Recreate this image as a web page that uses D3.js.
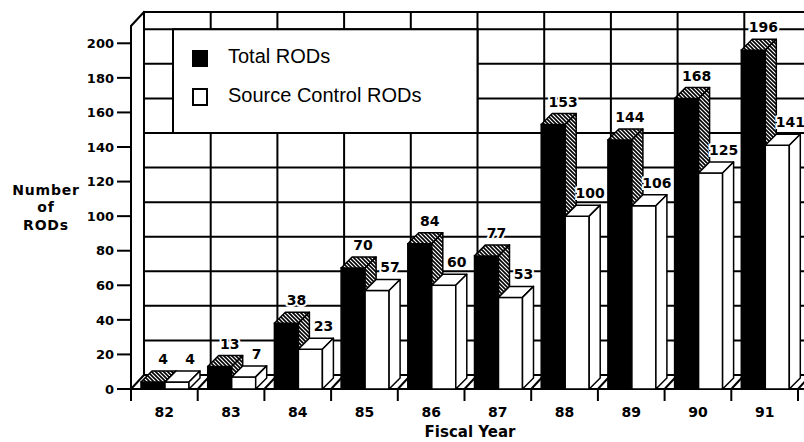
<!DOCTYPE html>
<html>
<head>
<meta charset="utf-8">
<script src="https://cdn.jsdelivr.net/npm/d3@7"></script>
<style>
  body { margin: 0; background: #fff; }
  svg { display: block; }
  .lbl { font-family: "DejaVu Sans", sans-serif; font-weight: bold; fill: #000; }
</style>
</head>
<body>
<svg width="804" height="442"></svg>
<script>
var years = ["82", "83", "84", "85", "86", "87", "88", "89", "90", "91"];
var totalRods = [4, 13, 38, 70, 84, 77, 153, 144, 168, 196];
var sourceRods = [4, 7, 23, 57, 60, 53, 100, 106, 125, 141];
var yTicks = [0, 20, 40, 60, 80, 100, 120, 140, 160, 180, 200];
var legendNames = ["Total RODs", "Source Control RODs"];

var svg = d3.select("svg"),
    W = 804,
    wdx = 13, wdy = -14,   // depth of the walls/floor
    bdx = 11, bdy = -11;   // depth of the bars

var x = d3.scaleBand().domain(years).range([131, 798]).paddingInner(0).paddingOuter(0);
var inner = d3.scaleBand().domain(["total", "source"]).range([10, 58]);
var y = d3.scaleLinear().domain([0, 210]).range([389, 26]);

var defs = svg.append("defs");
var pat = defs.append("pattern")
    .attr("id", "hatch")
    .attr("patternUnits", "userSpaceOnUse")
    .attr("width", 4).attr("height", 4);
pat.append("rect").attr("width", 4).attr("height", 4).attr("fill", "#fff");
pat.append("path").attr("d", "M-1,-1L5,5M-1,3L1,5M3,-1L5,1")
    .attr("stroke", "#000").attr("stroke-width", 1.6);

var g = svg.append("g").attr("stroke-linecap", "square");

// back wall
var backLeft = x.range()[0] + wdx;
g.append("line").attr("x1", backLeft).attr("x2", W).attr("y1", y(210) + wdy).attr("y2", y(210) + wdy)
    .attr("stroke", "#000").attr("stroke-width", 2);
g.selectAll(".hgrid").data(yTicks).enter().append("line")
    .attr("class", "hgrid")
    .attr("x1", backLeft).attr("x2", W)
    .attr("y1", function(d) { return y(d) + wdy; })
    .attr("y2", function(d) { return y(d) + wdy; })
    .attr("stroke", "#000").attr("stroke-width", 2);
var bounds = years.map(function(d) { return x(d); }).concat([x.range()[1]]);
g.selectAll(".vgrid").data(bounds).enter().append("line")
    .attr("class", "vgrid")
    .attr("x1", function(d) { return d + wdx; })
    .attr("x2", function(d) { return d + wdx; })
    .attr("y1", y(210) + wdy).attr("y2", y(0) + wdy)
    .attr("stroke", "#000").attr("stroke-width", 2);

// left side wall
g.append("path")
    .attr("d", "M" + x.range()[0] + "," + y(0) + "L" + x.range()[0] + "," + y(210) +
        "L" + backLeft + "," + (y(210) + wdy))
    .attr("fill", "none").attr("stroke", "#000").attr("stroke-width", 2);

// floor
g.append("line").attr("x1", x.range()[0]).attr("x2", W).attr("y1", y(0)).attr("y2", y(0))
    .attr("stroke", "#000").attr("stroke-width", 2);
g.selectAll(".fgrid").data(bounds).enter().append("line")
    .attr("class", "fgrid")
    .attr("x1", function(d) { return d; })
    .attr("x2", function(d) { return d + wdx; })
    .attr("y1", y(0)).attr("y2", y(0) + wdy)
    .attr("stroke", "#000").attr("stroke-width", 2);

// x ticks
g.selectAll(".xtick").data(bounds).enter().append("line")
    .attr("class", "xtick")
    .attr("x1", function(d) { return d; }).attr("x2", function(d) { return d; })
    .attr("y1", y(0)).attr("y2", y(0) + 11)
    .attr("stroke", "#000").attr("stroke-width", 2);

// y ticks
g.selectAll(".ytick").data(yTicks).enter().append("line")
    .attr("class", "ytick")
    .attr("x1", 118).attr("x2", x.range()[0])
    .attr("y1", function(d) { return y(d); }).attr("y2", function(d) { return y(d); })
    .attr("stroke", "#000").attr("stroke-width", 2);
svg.selectAll(".ylab").data(yTicks).enter().append("text")
    .attr("class", "lbl")
    .attr("x", 114).attr("y", function(d) { return y(d); })
    .attr("dy", "0.36em")
    .attr("text-anchor", "end")
    .style("font-size", "13px")
    .text(function(d) { return d; });

// legend, right edge sits on the back grid line between 86 and 87
var leg = svg.append("g");
leg.append("rect")
    .attr("x", 173).attr("y", y(200) + wdy)
    .attr("width", x("87") + wdx - 173).attr("height", y(140) - y(200))
    .attr("fill", "#fff").attr("stroke", "#000").attr("stroke-width", 2);
leg.append("rect").attr("x", 192).attr("y", 50).attr("width", 16).attr("height", 17).attr("fill", "#000");
leg.append("rect").attr("x", 193).attr("y", 89).attr("width", 14).attr("height", 16)
    .attr("fill", "#fff").attr("stroke", "#000").attr("stroke-width", 2);
leg.selectAll("text").data(legendNames).enter().append("text")
    .attr("x", 228).attr("y", function(d, i) { return i ? 102 : 63; })
    .style("font-family", "'Liberation Sans', Arial, sans-serif")
    .style("font-size", "20px")
    .text(function(d) { return d; });

// bars
function drawBar(sel, x0, w, v, kind) {
    var yt = y(v), yb = y(0);
    var front = sel.append("rect")
        .attr("x", x0).attr("y", yt).attr("width", w).attr("height", yb - yt)
        .attr("stroke", "#000").attr("stroke-width", 1.5);
    sel.append("path")
        .attr("d", "M" + x0 + "," + yt + "L" + (x0 + bdx) + "," + (yt + bdy) +
            "L" + (x0 + w + bdx) + "," + (yt + bdy) + "L" + (x0 + w) + "," + yt + "Z")
        .attr("fill", kind === "total" ? "url(#hatch)" : "#fff")
        .attr("stroke", "#000").attr("stroke-width", 1.5).attr("stroke-linejoin", "round");
    sel.append("path")
        .attr("d", "M" + (x0 + w) + "," + yt + "L" + (x0 + w + bdx) + "," + (yt + bdy) +
            "L" + (x0 + w + bdx) + "," + (yb + bdy) + "L" + (x0 + w) + "," + yb + "Z")
        .attr("fill", kind === "total" ? "url(#hatch)" : "#fff")
        .attr("stroke", "#000").attr("stroke-width", 1.5).attr("stroke-linejoin", "round");
    front.attr("fill", kind === "total" ? "#000" : "#fff");
}

function drawLabel(sel, cx, v) {
    sel.append("text")
        .attr("x", cx).attr("y", y(v) + bdy - 7)
        .attr("text-anchor", "middle")
        .style("font-family", "'DejaVu Sans', sans-serif")
        .style("font-weight", "bold")
        .style("font-size", "14px")
        .attr("paint-order", "stroke")
        .attr("stroke", "#fff").attr("stroke-width", 4)
        .attr("fill", "#000")
        .text(v);
}

var bars = svg.append("g");
years.forEach(function(yr, i) {
    var cg = bars.append("g");
    var bw = inner.bandwidth();
    var xt = x(yr) + inner("total");
    var xs = x(yr) + inner("source");
    drawBar(cg, xt, bw, totalRods[i], "total");
    drawLabel(cg, xt + bw / 2 + 10, totalRods[i]);
    drawBar(cg, xs, bw, sourceRods[i], "source");
    drawLabel(cg, xs + bw / 2 + 13, sourceRods[i]);
});

// category labels and titles
svg.selectAll(".xlab").data(years).enter().append("text")
    .attr("class", "lbl")
    .attr("x", function(d) { return x(d) + x.bandwidth() / 2; })
    .attr("y", 417)
    .attr("text-anchor", "middle")
    .style("font-size", "14px")
    .text(function(d) { return d; });

svg.append("text").attr("class", "lbl")
    .attr("x", 470).attr("y", 437)
    .attr("text-anchor", "middle")
    .style("font-size", "15px")
    .text("Fiscal Year");

svg.selectAll(".ytitle").data(["Number", "of", "RODs"]).enter().append("text")
    .attr("class", "lbl")
    .attr("x", 46).attr("y", function(d, i) { return [195, 212, 230][i]; })
    .attr("text-anchor", "middle")
    .style("font-size", "14px")
    .style("letter-spacing", "0.8px")
    .text(function(d) { return d; });
</script>
</body>
</html>
